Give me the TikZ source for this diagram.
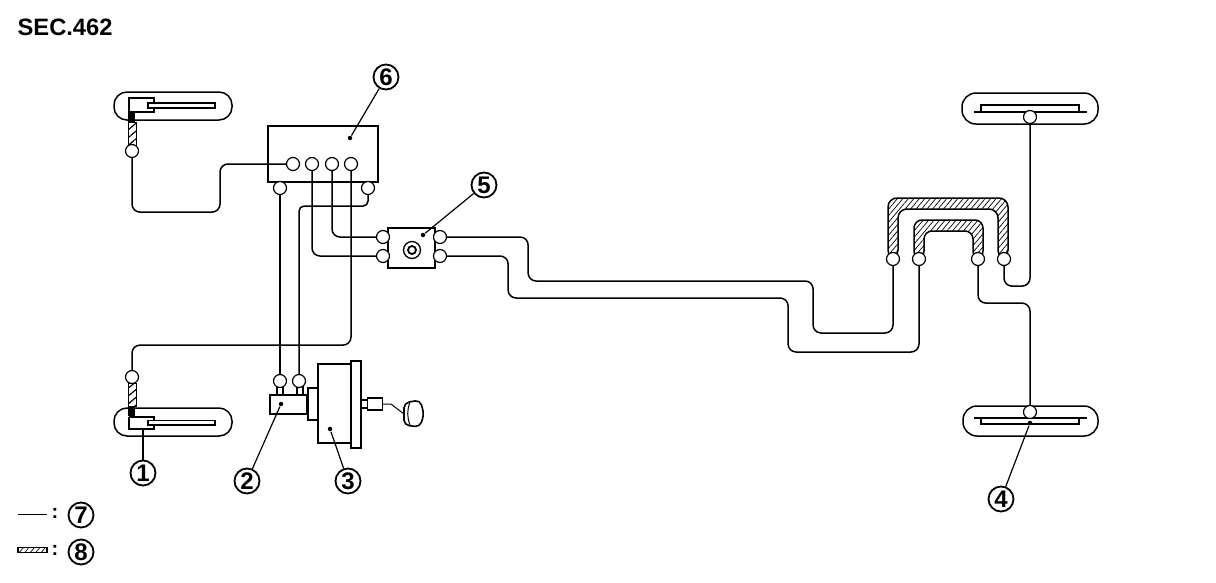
\documentclass[tikz,border=0pt]{standalone}
\usepackage{fontspec}
\setmainfont{Liberation Sans}
\usetikzlibrary{patterns.meta}
\begin{document}
\begin{tikzpicture}[
      x=1pt, y=-1pt,
      line width=1.3pt,
      port/.style ={circle, draw, fill=white, line width=1.2pt, minimum size=13pt, inner sep=0pt},
      callout/.style ={circle, draw, line width=1.8pt, minimum size=25pt, inner sep=0pt, font=\fontsize{24}{24}\selectfont\bfseries},
      tipdot/.style ={circle, fill=black, minimum size=4.5pt, inner sep=0pt},
      block/.style ={rectangle, draw, fill=white, inner sep=0pt},
      pipe/.style ={rounded corners=8pt, line width=1.5pt},
      leader/.style ={line width=1.2pt},
      hatchband/.style ={draw, line width=1.5pt, pattern={Lines[angle=50, distance=4.2pt, line width=.7pt]}},
      hosetwist/.style ={draw, line width=.9pt, pattern={Lines[angle=40, distance=6pt, line width=1.2pt]}}
    ]
    \useasboundingbox (0,0) rectangle (1216,582);
    \node [anchor=west, inner sep=0pt, font=\fontsize{23.7}{24}\selectfont\bfseries] (title) at (17,27) {SEC.462} ;

    % front calipers
    \draw [rounded corners=13pt, line width=1.5pt] (114,92) rectangle (232,120) ;
    \draw [rounded corners=13pt, line width=1.5pt] (114,408) rectangle (232,436) ;
    \draw (154,103) -- (154,98) -- (129,98) -- (129,112) -- (154,112) -- (154,108) ;
    \draw (129,417) -- (154,417) -- (154,421) (154,425) -- (154,429) -- (129,429) -- (129,417) ;
    \draw [line width=1.6pt] (148,103) rectangle (215,108) ;
    \draw (148,420.5) rectangle (215,425) ;
    \fill (128,112) rectangle (135,122) ;
    \fill (128,406) rectangle (135,416) ;
    \path [hosetwist] (128,122) rectangle (136,147) ;
    \path [hosetwist] (128,383) rectangle (136,406) ;
    \node [port] (calipertop) at (132,151) {} ;
    \node [port] (caliperlow) at (132,377) {} ;

    % rear calipers
    \draw [rounded corners=14pt, line width=1.5pt] (962,93) rectangle (1098,124) ;
    \draw [rounded corners=14pt, line width=1.5pt] (963,406) rectangle (1098,436) ;
    \draw (974,112) -- (1087,112) ;
    \draw [line width=1.8pt] (981,112) -- (981,105) -- (1079,105) -- (1079,112) ;
    \draw (974,418) -- (1087,418) ;
    \draw [line width=1.1pt] (981,418) -- (981,424) -- (1079,424) -- (1079,418) ;
    \node [port] (reartop) at (1030,117) {} ;
    \node [port] (rearlow) at (1030,412) {} ;

    % hatched hoses
    \path [hatchband, rounded corners=9pt] (888,259) -- (888,198) -- (1008,198) -- (1008,259) -- (998,259) -- (998,209) -- (898,209) -- (898,259) -- cycle ;
    \path [hatchband, rounded corners=8pt] (914,259) -- (914,220) -- (983,220) -- (983,259) -- (973,259) -- (973,231) -- (924,231) -- (924,259) -- cycle ;
    \node [port] (hoseA) at (893,259) {} ;
    \node [port] (hoseB) at (919,259) {} ;
    \node [port] (hoseC) at (978,259) {} ;
    \node [port] (hoseD) at (1004,259) {} ;

    % actuator
    \node [block, minimum width=110pt, minimum height=56pt, line width=1.4pt] (actuator) at (323,154) {} ;
    \node [port] (actA) at (293,164) {} ;
    \node [port] (actB) at (312,164) {} ;
    \node [port] (actC) at (332,164) {} ;
    \node [port] (actD) at (351,164) {} ;
    \node [port] (actE) at (280,188) {} ;
    \node [port] (actF) at (368,188) {} ;

    % valve
    \node [block, minimum width=47pt, minimum height=40pt, line width=1.4pt] (valve) at (411.5,248) {} ;
    \node [port] (valveA) at (383,237) {} ;
    \node [port] (valveB) at (383,256) {} ;
    \node [port] (valveC) at (440,237) {} ;
    \node [port] (valveD) at (440,256) {} ;
    \node [circle, draw, minimum size=17pt, inner sep=0pt] (knob) at (412,250) {} ;
    \node [circle, draw, line width=1.8pt, minimum size=8pt, inner sep=0pt] (knobcore) at (412,250) {} ;

    % master cylinder and booster
    \draw (277,395) -- (277,385) (283,395) -- (283,385) (297,395) -- (297,385) (303,395) -- (303,385) ;
    \node [port] (masterA) at (280,381) {} ;
    \node [port] (masterB) at (299,381) {} ;
    \node [block, minimum width=37pt, minimum height=19pt] (master) at (288.5,404.5) {} ;
    \draw [line width=2pt] (318,388) -- (308,388) -- (308,420) -- (318,420) ;
    \node [block, minimum width=33pt, minimum height=79pt] (booster) at (334.5,403.5) {} ;
    \node [block, minimum width=10pt, minimum height=87pt, line width=1.8pt] (plate) at (356,404.5) {} ;
    \draw (361,400) -- (368,400) (361,408) -- (368,408) ;
    \node [block, minimum width=15pt, minimum height=12pt] (rodbox) at (375,404) {} ;
    \draw [rounded corners=5pt, line width=1.6pt] (404,403) -- (420,400) -- (424,414) -- (420,427) -- (404,425) -- cycle ;
    \draw [line width=1pt] (410,402) to [bend right=20] (410,425) ;
    \coordinate (pedal) at (404,414) ;
    \draw [line width=1pt] (rodbox.east) -- (391,404) -- (pedal) ;

    % pipes
    \draw [pipe] (calipertop.south) -- ++(0,54) -- ++(88,0) |- (actA.west) ;
    \draw [pipe] (actB.south) |- (valveB.west) ;
    \draw [pipe] (actC.south) |- (valveA.west) ;
    \draw [pipe] (actD.south) |- ++(-100,174) -| (caliperlow.north) ;
    \draw [pipe] (actE.south) -- (masterA.north) ;
    \draw [pipe, rounded corners=5pt] (actF.south) -- ++(0,11) -| (masterB.north) ;
    \draw [pipe] (valveC.east) -- ++(81,0) -- ++(0,44) -- ++(285,0) -- ++(0,52) -| (hoseA.south) ;
    \draw [pipe] (valveD.east) -- ++(61,0) -- ++(0,42) -- ++(280,0) -- ++(0,54) -| (hoseB.south) ;
    \draw [pipe] (hoseC.south) -- ++(0,37) -| (rearlow.north) ;
    \draw [pipe] (reartop.south) -- ++(0,162) -| (hoseD.south) ;

    % numbered callouts
    \node [callout] (num1) at (143,473) {1} ;
    \node [callout] (num2) at (247,481) {2} ;
    \node [callout] (num3) at (348,481) {3} ;
    \node [callout] (num4) at (1001,499) {4} ;
    \node [callout] (num5) at (484,185) {5} ;
    \node [callout] (num6) at (386,77) {6} ;
    \node [tipdot] (tip2) at (281,404) {} ;
    \node [tipdot] (tip3) at (330,429) {} ;
    \node [tipdot] (tip4) at (1030,423) {} ;
    \node [tipdot] (tip5) at (423,235) {} ;
    \node [tipdot] (tip6) at (350,138) {} ;
    \coordinate (tip1) at (143,429) ;
    \draw [leader] (num1) -- (tip1) ;
    \draw [leader] (num2) -- (tip2) ;
    \draw [leader] (num3) -- (tip3) ;
    \draw [leader] (num4) -- (tip4) ;
    \draw [leader] (num5) -- (tip5) ;
    \draw [leader] (num6) -- (tip6) ;

    % legend
    \node [callout] (num7) at (81,515) {7} ;
    \node [callout] (num8) at (81,552) {8} ;
    \coordinate (lineL) at (18,514) ;
    \coordinate (lineR) at (47,514) ;
    \draw [line width=1pt] (lineL) -- (lineR) ;
    \path [hatchband] (18,547.5) rectangle (47,552.5) ;
    \node [inner sep=0pt, font=\fontsize{20}{20}\selectfont\bfseries] (colon7) at (55,513) {:} ;
    \node [inner sep=0pt, font=\fontsize{20}{20}\selectfont\bfseries] (colon8) at (55,550) {:} ;
  \end{tikzpicture}
\end{document}
